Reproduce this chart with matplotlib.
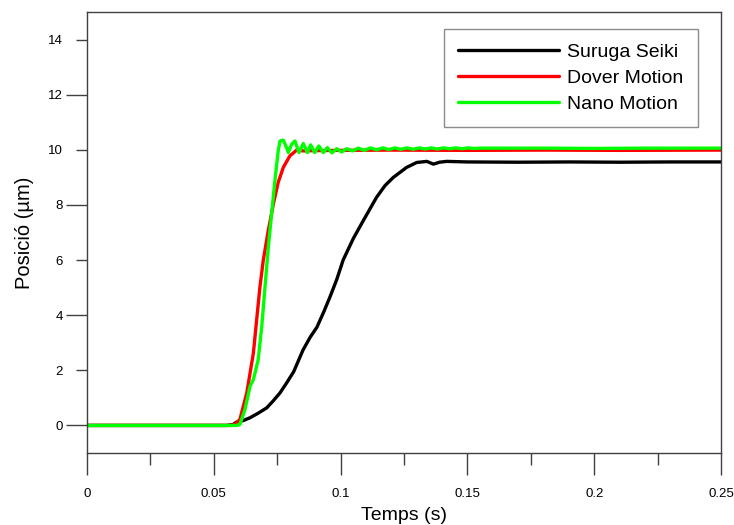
import matplotlib
matplotlib.use("Agg")
import matplotlib.pyplot as plt
from matplotlib.ticker import MultipleLocator, FixedLocator, FormatStrFormatter

plt.rcParams['font.family'] = ['Liberation Sans', 'DejaVu Sans']

# Step response of three positioning stages (time in s, position in µm)
t_suruga = [0.0, 0.030, 0.055, 0.0575, 0.059, 0.0617, 0.0643, 0.0676, 0.0709, 0.0735,
            0.0761, 0.0787, 0.0815, 0.0852, 0.0880, 0.0907, 0.0935, 0.0958, 0.0985,
            0.1010, 0.1050, 0.1090, 0.1142, 0.1175, 0.1208, 0.1260, 0.1300, 0.1340,
            0.1366, 0.1390, 0.1418, 0.1500, 0.1700, 0.1900, 0.2100, 0.2300, 0.2500]
v_suruga = [0.0, 0.0, 0.0, 0.03, 0.12, 0.18, 0.28, 0.45, 0.64, 0.90,
            1.18, 1.54, 1.95, 2.74, 3.20, 3.57, 4.15, 4.66, 5.30,
            6.00, 6.78, 7.44, 8.28, 8.70, 9.00, 9.36, 9.54, 9.58,
            9.48, 9.55, 9.58, 9.56, 9.55, 9.56, 9.55, 9.56, 9.56]

t_dover = [0.0, 0.030, 0.0570, 0.0585, 0.0603, 0.0630, 0.0656, 0.0669, 0.0682, 0.0695,
           0.0715, 0.0735, 0.0754, 0.0774, 0.0800, 0.0827, 0.0853, 0.0900, 0.1000,
           0.1200, 0.1500, 0.1800, 0.2100, 0.2500]
v_dover = [0.0, 0.0, 0.0, 0.05, 0.22, 1.18, 2.62, 3.83, 5.03, 5.99,
           7.08, 8.04, 8.82, 9.36, 9.78, 9.99, 9.96, 9.97, 9.98,
           9.99, 9.98, 9.99, 9.98, 9.99]

t_nano = [0.0, 0.030, 0.0590, 0.0603, 0.0623, 0.0643, 0.0656, 0.0675, 0.0689, 0.0702,
          0.0715, 0.0728, 0.0741, 0.0754, 0.0761, 0.0774, 0.0787, 0.0794, 0.0807,
          0.0820, 0.0836, 0.0853, 0.0869, 0.0882, 0.0898, 0.0914, 0.0932, 0.0948,
          0.0966, 0.0985, 0.1004, 0.1024, 0.1047, 0.1070, 0.1094, 0.1118, 0.1142,
          0.1166, 0.1190, 0.1214, 0.1238, 0.1262, 0.1286, 0.1310, 0.1334, 0.1358,
          0.1382, 0.1406, 0.1430, 0.1454, 0.1478, 0.1502, 0.1526, 0.1550, 0.1600,
          0.1800, 0.2000, 0.2200, 0.2500]
v_nano = [0.0, 0.0, 0.0, 0.04, 0.58, 1.42, 1.66, 2.38, 3.58, 5.03,
          6.47, 7.68, 8.88, 9.96, 10.32, 10.35, 10.08, 9.90, 10.20,
          10.32, 9.90, 10.23, 9.90, 10.18, 9.90, 10.14, 9.90, 10.08,
          9.89, 10.04, 9.92, 10.04, 9.96, 10.06, 9.98, 10.07, 10.00,
          10.07, 10.01, 10.07, 10.02, 10.07, 10.02, 10.07, 10.03, 10.07,
          10.03, 10.07, 10.04, 10.07, 10.04, 10.07, 10.05, 10.06, 10.06,
          10.06, 10.05, 10.06, 10.06]

series = [
    ("Suruga Seiki", t_suruga, v_suruga, "#000000"),
    ("Dover Motion", t_dover, v_dover, "#ff0000"),
    ("Nano Motion", t_nano, v_nano, "#00ff00"),
]

x_major = [0.0, 0.05, 0.10, 0.15, 0.20, 0.25]
x_labels = ["0", "0.05", "0.1", "0.15", "0.2", "0.25"]
y_major = [0, 4, 8, 12]
y_minor = [2, 6, 10, 14]

fig = plt.figure(figsize=(7.34, 5.25), dpi=100)
ax = fig.add_axes([87 / 734, 1 - 453 / 525, (721 - 87) / 734, (453 - 12) / 525])

for name, t, v, c in series:
    ax.plot(t, v, color=c, lw=2.4, label=name, solid_capstyle='round')

ax.set_xlim(0, 0.25)
ax.set_ylim(-1, 15)

ax.xaxis.set_major_locator(FixedLocator(x_major))
ax.set_xticklabels(x_labels)
ax.xaxis.set_minor_locator(MultipleLocator(0.025))
ax.yaxis.set_major_locator(FixedLocator(y_major))
ax.yaxis.set_minor_locator(FixedLocator(y_minor))
ax.yaxis.set_minor_formatter(FormatStrFormatter('%d'))

spine_c = '#404040'
for s in ax.spines.values():
    s.set_color(spine_c)
    s.set_linewidth(1.0)

ax.tick_params(axis='x', which='major', direction='out', length=16, width=1,
               color=spine_c, pad=9.5, labelsize=9.5, top=False)
ax.tick_params(axis='x', which='minor', direction='out', length=8.5, width=1,
               color=spine_c, top=False)
ax.tick_params(axis='y', which='major', direction='out', length=15, width=1,
               color=spine_c, pad=2.5, labelsize=9.5, right=False)
ax.tick_params(axis='y', which='minor', direction='out', length=8, width=1,
               color=spine_c, pad=9.5, labelsize=9.5, right=False)

ax.set_xlabel("Temps (s)", fontsize=14, labelpad=5)
ax.set_ylabel("Posició (µm)", fontsize=14.5, labelpad=10)

leg = ax.legend(loc='upper right', bbox_to_anchor=(698 / 734, 1 - 29 / 525),
                bbox_transform=fig.transFigure, fontsize=14, frameon=True,
                fancybox=False, edgecolor='#707070', handlelength=5.2,
                handletextpad=0.4, labelspacing=0.42, borderpad=0.75,
                borderaxespad=0)
leg.get_frame().set_linewidth(1.0)
for line in leg.get_lines():
    line.set_linewidth(2.4)

fig.savefig("out.png", dpi=100)
